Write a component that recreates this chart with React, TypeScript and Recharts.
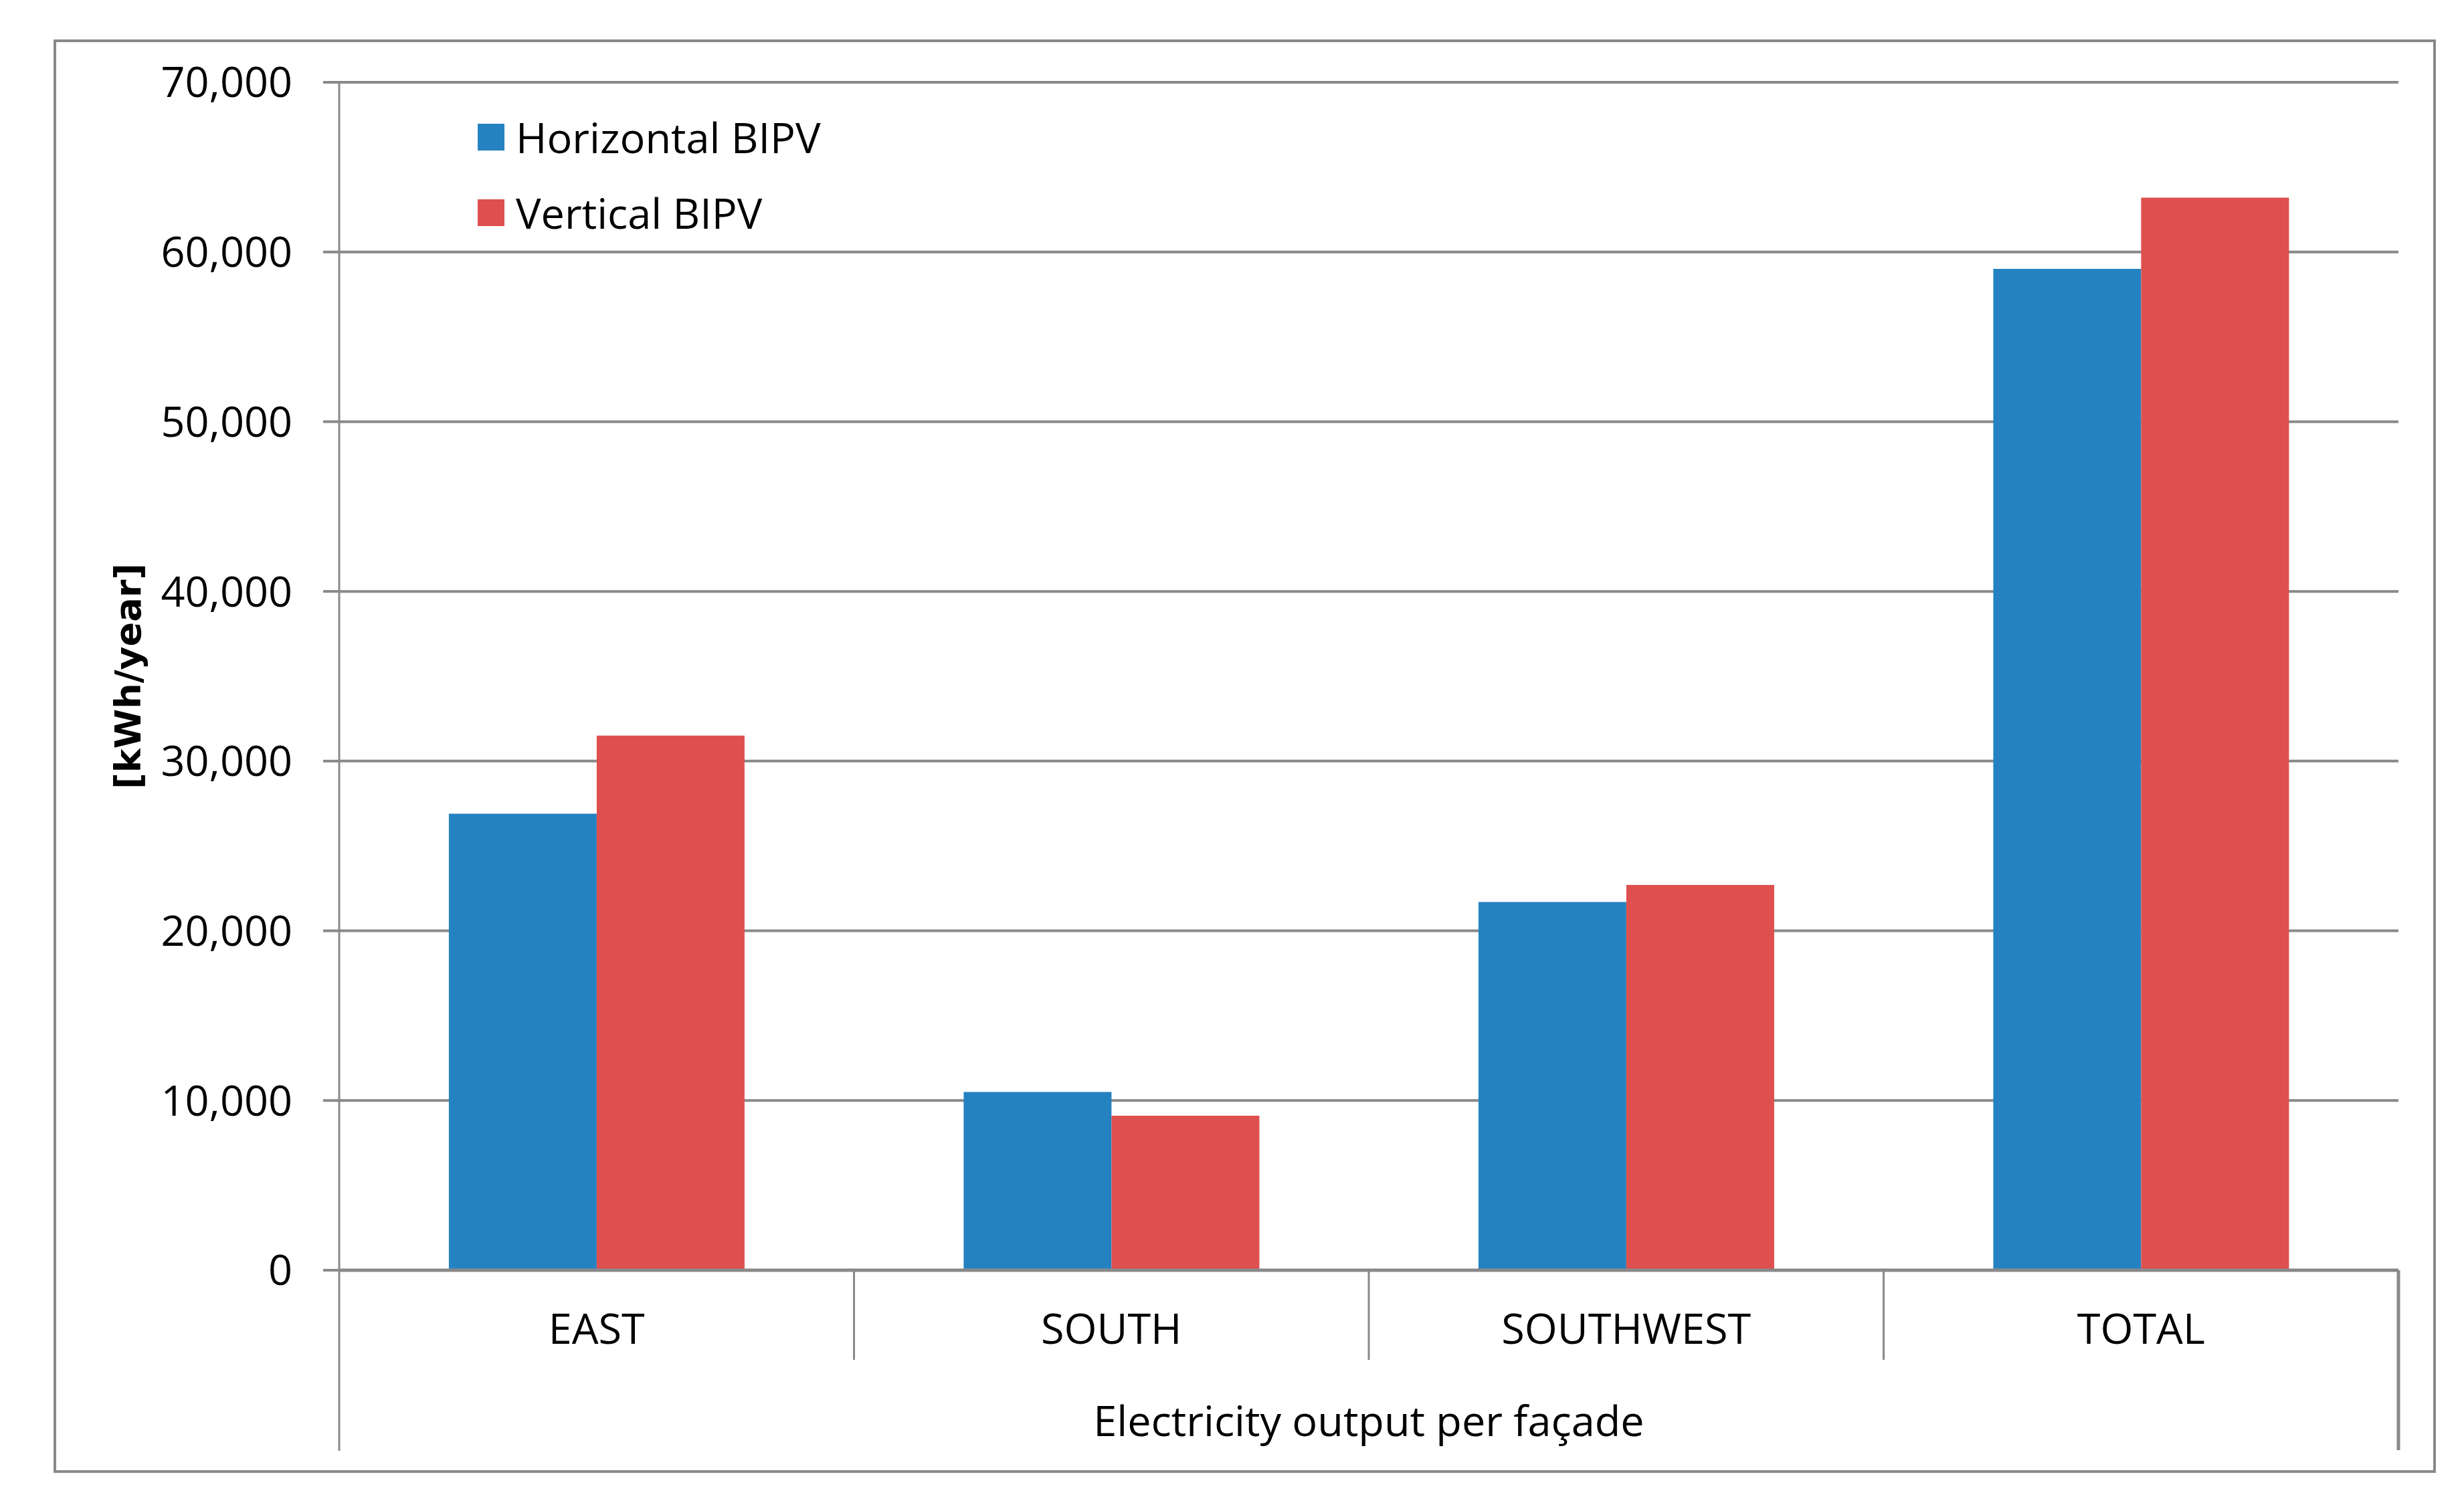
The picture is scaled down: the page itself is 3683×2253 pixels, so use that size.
import React from 'react';
import { Bar, BarChart, CartesianGrid, Legend, XAxis, YAxis } from 'recharts';

const categories = ['EAST', 'SOUTH', 'SOUTHWEST', 'TOTAL'];
const horizontalBipv = [26900, 10500, 21700, 59000];
const verticalBipv = [31500, 9100, 22700, 63200];
const yTicks = [0, 10000, 20000, 30000, 40000, 50000, 60000, 70000];

const data = categories.map((name, i) => ({
  name,
  'Horizontal BIPV': horizontalBipv[i],
  'Vertical BIPV': verticalBipv[i],
}));

const W = 3683;
const H = 2253;
const MARGIN = { top: 123, right: 98, bottom: 220, left: 0 };
const Y_AXIS_W = 507;
const X_AXIS_H = 134;
const PLOT_W = W - MARGIN.left - MARGIN.right - Y_AXIS_W;
const BAND = PLOT_W / categories.length;

const GRAY = '#898989';
const BLUE = '#2582C1';
const RED = '#DE504E';
const FONT = '"Open Sans", sans-serif';
const FS = 63;

const CategoryTick = (props: any) => {
  const { x, y, payload, index } = props;
  const half = BAND / 2;
  return (
    <g>
      <text
        x={x}
        y={y + 88}
        dy='0.355em'
        textAnchor='middle'
        fill='#000'
        fontFamily={FONT}
        fontSize={FS}
      >
        {payload.value}
      </text>
      {index > 0 && (
        <line x1={x - half} x2={x - half} y1={y} y2={y + 134} stroke={GRAY} strokeWidth={3} />
      )}
      {index === 0 && (
        <line x1={x - half} x2={x - half} y1={y} y2={y + 270} stroke={GRAY} strokeWidth={3} />
      )}
      {index === categories.length - 1 && (
        <line x1={x + half} x2={x + half} y1={y} y2={y + 269} stroke={GRAY} strokeWidth={5} />
      )}
    </g>
  );
};

const XTitle = (props: any) => {
  const { x, y, width, height } = props.viewBox;
  return (
    <text
      x={x + width / 2}
      y={y + height + 114}
      textAnchor='middle'
      fill='#000'
      fontFamily={FONT}
      fontSize={FS}
    >
      Electricity output per façade
    </text>
  );
};

const YTitle = (props: any) => {
  const { y, height } = props.viewBox;
  const cx = 191;
  const cy = y + height / 2;
  return (
    <text
      x={cx}
      y={cy}
      dy='0.355em'
      textAnchor='middle'
      fill='#000'
      fontFamily='"DejaVu Sans", sans-serif'
      fontWeight='bold'
      fontSize={54}
      transform={`rotate(-90, ${cx}, ${cy})`}
    >
      [kWh/year]
    </text>
  );
};

const renderLegend = (props: any) => (
  <div style={{ fontFamily: FONT, fontSize: FS, color: '#000' }}>
    {(props.payload || []).map((entry: any) => (
      <div
        key={entry.value}
        style={{ display: 'flex', alignItems: 'center', height: 113, whiteSpace: 'nowrap' }}
      >
        <span
          style={{ display: 'inline-block', width: 40, height: 40, background: entry.color, marginRight: 17 }}
        />
        <span>{entry.value}</span>
      </div>
    ))}
  </div>
);

export default function App() {
  return (
    <div style={{ position: 'absolute', left: 0, top: 0, width: W, height: H, background: '#fff' }}>
      <div
        style={{
          position: 'absolute',
          left: 80,
          top: 59,
          width: 3561,
          height: 2143,
          border: `4px solid ${GRAY}`,
          boxSizing: 'border-box',
        }}
      />
      <div style={{ position: 'absolute', left: 0, top: 0 }}>
        <BarChart
          width={W}
          height={H}
          data={data}
          margin={MARGIN}
          barCategoryGap='21.3%'
          barGap={0}
        >
          <CartesianGrid vertical={false} stroke={GRAY} strokeWidth={4} />
          <XAxis
            dataKey='name'
            height={X_AXIS_H}
            axisLine={{ stroke: GRAY, strokeWidth: 5 }}
            tickLine={false}
            tickSize={0}
            tickMargin={0}
            tick={<CategoryTick />}
            interval={0}
            label={XTitle}
          />
          <YAxis
            width={Y_AXIS_W}
            domain={[0, 70000]}
            ticks={yTicks}
            interval={0}
            axisLine={{ stroke: GRAY, strokeWidth: 3 }}
            tickLine={{ stroke: GRAY, strokeWidth: 4 }}
            tickSize={24}
            tickMargin={46}
            tick={{ fill: '#000', fontFamily: FONT, fontSize: FS }}
            tickFormatter={(v: number) => v.toLocaleString('en-US')}
            label={YTitle}
          />
          <Legend
            layout='vertical'
            align='center'
            verticalAlign='middle'
            content={renderLegend}
            wrapperStyle={{ top: 148, left: 714, width: 'auto' }}
          />
          <Bar dataKey='Horizontal BIPV' fill={BLUE} isAnimationActive={false} />
          <Bar dataKey='Vertical BIPV' fill={RED} isAnimationActive={false} />
        </BarChart>
      </div>
    </div>
  );
}
